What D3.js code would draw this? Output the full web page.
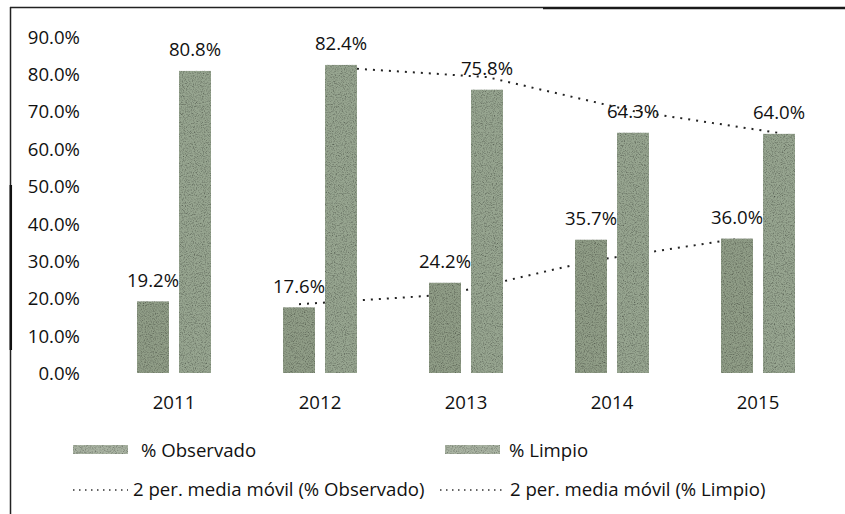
<!DOCTYPE html>
<html><head><meta charset="utf-8">
<script src="https://cdn.jsdelivr.net/npm/d3@7"></script>
<style>
html,body{margin:0;padding:0;background:#fff;}
svg text{font-family:"Open Sans",Lato,sans-serif;fill:#111;}
</style></head>
<body>
<svg id="c" width="845" height="514"></svg>
<script>
const years = ["2011","2012","2013","2014","2015"];
const observado = [19.2, 17.6, 24.2, 35.7, 36.0];
const limpio = [80.8, 82.4, 75.8, 64.3, 64.0];
const maObservado = [null, 18.4, 20.9, 29.95, 35.85];
const maLimpio = [null, 81.6, 79.1, 70.05, 64.15];
const yTicks = [0,10,20,30,40,50,60,70,80,90];
const seriesNames = ["% Observado","% Limpio"];
const maNames = ["2 per. media móvil (% Observado)","2 per. media móvil (% Limpio)"];

const svg = d3.select("#c");
const FS = 18.6;
const FF = "'Open Sans',Lato,sans-serif";

// texture filter
const defs = svg.append("defs");
const f = defs.append("filter").attr("id","grain").attr("x",0).attr("y",0).attr("width","100%").attr("height","100%");
f.append("feTurbulence").attr("type","fractalNoise").attr("baseFrequency",0.9).attr("numOctaves",2).attr("seed",4).attr("result","noise");
f.append("feColorMatrix").attr("in","noise").attr("type","saturate").attr("values",0).attr("result","g");
const ct = f.append("feComponentTransfer").attr("in","g").attr("result","g2");
["feFuncR","feFuncG","feFuncB"].forEach(n=>ct.append(n).attr("type","linear").attr("slope",1.9).attr("intercept",-0.05));
ct.append("feFuncA").attr("type","linear").attr("slope",0).attr("intercept",1);
f.append("feBlend").attr("in","SourceGraphic").attr("in2","g2").attr("mode","multiply").attr("result","b");
f.append("feComposite").attr("in","b").attr("in2","SourceGraphic").attr("operator","in");

// frame
svg.append("line").attr("x1",10).attr("x2",543).attr("y1",7.5).attr("y2",7.5).attr("stroke","#222").attr("stroke-width",1.5);
svg.append("line").attr("x1",543).attr("x2",845).attr("y1",8).attr("y2",8).attr("stroke","#1a1a1a").attr("stroke-width",2.5);
svg.append("line").attr("x1",10.5).attr("x2",10.5).attr("y1",7).attr("y2",514).attr("stroke","#222").attr("stroke-width",1.5);
svg.append("line").attr("x1",10.8).attr("x2",10.8).attr("y1",185).attr("y2",350).attr("stroke","#111").attr("stroke-width",2.5);

const y = d3.scaleLinear().domain([0,90]).range([373,36.3]);
const x = d3.scaleBand().domain(years).range([101,831]);
const xs = d3.scaleBand().domain(["obs","lim"]).range([0,74]).paddingInner(0.238);
const off = (x.bandwidth()-74)/2;
const barX = (yr,s) => x(yr)+off+xs(s);
const barC = (yr,s) => barX(yr,s)+xs.bandwidth()/2;

const styleText = sel => sel.attr("font-size",FS).attr("dy","0.36em").style("font-family",FF).style("fill","#111");

// y axis labels
const ya = svg.append("g").attr("transform","translate(80,0)")
  .call(d3.axisLeft(y).tickValues(yTicks).tickSize(0).tickPadding(0).tickFormat(d=>d.toFixed(1)+"%"));
ya.select(".domain").remove();
styleText(ya.selectAll("text"));

// x axis labels
const xa = svg.append("g").attr("transform","translate(0,402)")
  .call(d3.axisBottom(x).tickSize(0).tickPadding(0));
xa.select(".domain").remove();
styleText(xa.selectAll("text"));

// moving average lines (behind bars)
const lineGen = s => d3.line().defined(d=>d.v!=null).x(d=>barC(d.yr,s)).y(d=>y(d.v));
svg.append("path").datum(years.map((yr,i)=>({yr,v:maObservado[i]})))
  .attr("d",lineGen("obs")).attr("fill","none").attr("stroke","#222").attr("stroke-width",2).attr("stroke-dasharray","2,6");
svg.append("path").datum(years.map((yr,i)=>({yr,v:maLimpio[i]})))
  .attr("d",lineGen("lim")).attr("fill","none").attr("stroke","#222").attr("stroke-width",2).attr("stroke-dasharray","2,6");

// bars
const colObs = "#909d87", colLim = "#97a590";
svg.append("g").selectAll("rect").data(years.map((yr,i)=>({yr,v:observado[i]}))).join("rect")
  .attr("x",d=>barX(d.yr,"obs")).attr("width",xs.bandwidth()).attr("y",d=>y(d.v)).attr("height",d=>y(0)-y(d.v))
  .attr("fill",colObs).attr("filter","url(#grain)");
svg.append("g").selectAll("rect").data(years.map((yr,i)=>({yr,v:limpio[i]}))).join("rect")
  .attr("x",d=>barX(d.yr,"lim")).attr("width",xs.bandwidth()).attr("y",d=>y(d.v)).attr("height",d=>y(0)-y(d.v))
  .attr("fill",colLim).attr("filter","url(#grain)");

// data labels
const lab = (arr,s) => styleText(svg.append("g").selectAll("text").data(years.map((yr,i)=>({yr,v:arr[i]}))).join("text")
  .attr("x",d=>barC(d.yr,s)).attr("y",d=>y(d.v)-21).attr("text-anchor","middle")
  .text(d=>d.v.toFixed(1)+"%"));
lab(observado,"obs"); lab(limpio,"lim");

// legend
const lg = svg.append("g");
[[73,141],[445,509]].forEach((p,i)=>{
  lg.append("rect").attr("x",p[0]).attr("y",445).attr("width",55).attr("height",9)
    .attr("fill","#a9b3a2").attr("filter","url(#grain)");
  styleText(lg.append("text").attr("x",p[1]).attr("y",450).text(seriesNames[i]));
});
[[73,128,133],[440,506,510]].forEach((p,i)=>{
  lg.append("line").attr("x1",p[0]).attr("x2",p[1]).attr("y1",490).attr("y2",490)
    .attr("stroke","#333").attr("stroke-width",1.5).attr("stroke-dasharray","1.5,4.5");
  styleText(lg.append("text").attr("x",p[2]).attr("y",489).text(maNames[i]));
});
</script>
</body></html>
